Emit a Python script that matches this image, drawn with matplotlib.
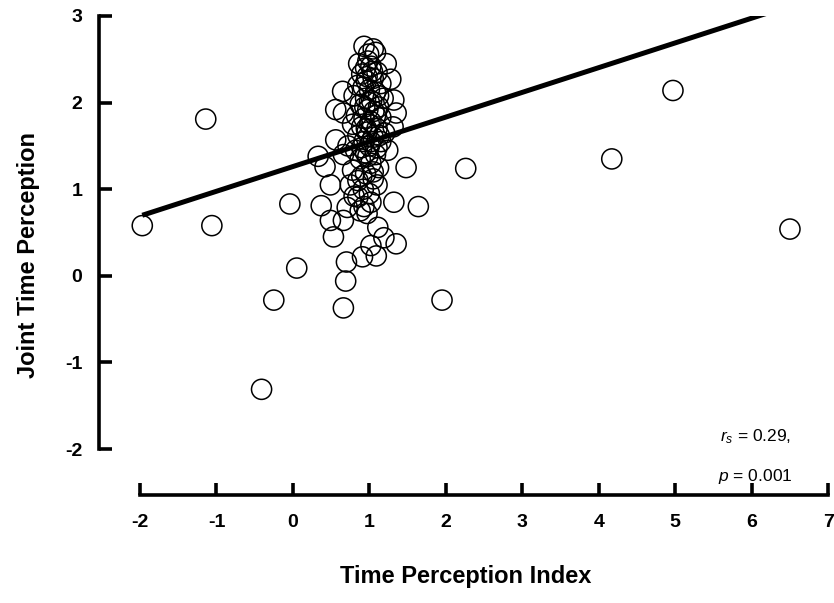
import matplotlib
matplotlib.use("Agg")
import matplotlib.pyplot as plt
import numpy as np

plt.rcParams['font.family'] = ['Liberation Sans', 'DejaVu Sans']
plt.rcParams['mathtext.fontset'] = 'custom'
plt.rcParams['mathtext.it'] = 'Liberation Sans:italic'
plt.rcParams['mathtext.rm'] = 'Liberation Sans'
plt.rcParams['axes.unicode_minus'] = False

# Time Perception Index (x) and Joint Time Perception (y) per participant
tpi = [
    0.93, 1.05, 0.99, 1.08, 1.22, 0.86, 0.95, 1.02, 0.90, 1.10,
    1.28, 0.97, 1.05, 0.65, 0.85, 1.15, 0.92, 1.00, 1.08, 1.32,
    0.80, 0.95, 1.03, 1.18, 0.88, 1.12, 0.56, 0.66, 1.35, 0.98,
    1.06, 0.83, 0.93, 1.15, 1.02, 1.31, 0.78, 0.90, 1.10, 0.97,
    1.20, 0.85, 0.56, 1.05, 0.93, 1.15, 0.72, 1.00, 1.24, 0.82,
    0.95, 1.08, 0.66, 0.42, 0.88, 1.02, 1.12, 0.78, 0.95, 0.85,
    1.05, 0.75, 0.92, 1.00, 0.80, 0.85, 1.02, 0.93, 0.71, 0.88,
    0.97, 0.66, 0.49,
    0.98, 1.04, 0.96, 1.12, 1.00, 0.94, 1.08, 1.00, 0.96, 1.13,
    1.02, 0.90, 1.10, 0.98, 1.05, 0.90, 1.10,
    -1.97, -1.14, -1.06, -0.41, -0.25, -0.04, 0.05, 0.33, 0.37, 0.49,
    0.53, 0.69, 0.66, 0.70, 0.91, 1.09, 1.02, 1.19, 1.35, 1.11,
    1.32, 1.64, 1.48, 1.95, 2.26, 4.17, 4.97, 6.50,
]
jtp = [
    2.65, 2.62, 2.56, 2.58, 2.45, 2.45, 2.40, 2.42, 2.33, 2.35,
    2.27, 2.30, 2.28, 2.13, 2.20, 2.22, 2.18, 2.15, 2.12, 2.03,
    2.08, 2.05, 2.02, 2.05, 1.98, 1.95, 1.92, 1.88, 1.88, 1.92,
    1.90, 1.85, 1.82, 1.83, 1.78, 1.72, 1.75, 1.72, 1.70, 1.66,
    1.65, 1.62, 1.57, 1.60, 1.55, 1.55, 1.50, 1.50, 1.45, 1.45,
    1.42, 1.40, 1.40, 1.26, 1.35, 1.30, 1.25, 1.22, 1.18, 1.10,
    1.12, 1.05, 1.00, 0.95, 0.92, 0.91, 0.85, 0.80, 0.79, 0.75,
    0.72, 0.64, 0.64,
    2.48, 2.36, 2.25, 2.08, 2.00, 1.95, 1.85, 1.75, 1.70, 1.62,
    1.55, 1.48, 1.48, 1.38, 1.20, 1.15, 1.05,
    0.58, 1.81, 0.58, -1.31, -0.28, 0.83, 0.09, 1.38, 0.81, 1.05,
    0.45, -0.06, -0.37, 0.16, 0.22, 0.23, 0.35, 0.44, 0.37, 0.56,
    0.85, 0.80, 1.25, -0.28, 1.24, 1.35, 2.14, 0.54,
]

# fitted trend line
fit_intercept = 1.262
fit_slope = 0.2855

x_ticks = [-2, -1, 0, 1, 2, 3, 4, 5, 6, 7]
y_ticks = [-2, -1, 0, 1, 2, 3]

fig = plt.figure(figsize=(8.34, 6.03), dpi=100)
ax = fig.add_axes([99 / 834, (603 - 495) / 603, 733 / 834, (495 - 16) / 603])

ax.scatter(tpi, jtp, s=210, facecolors='none', edgecolors='black',
           linewidths=1.1, zorder=2, clip_on=False)

xs = np.array([min(tpi), max(tpi)])
ax.plot(xs, fit_intercept + fit_slope * xs, color='black', lw=3.6,
        solid_capstyle='butt', zorder=3)

ax.set_xlim(-2.536, 7.05)
ax.set_ylim(-2.53, 3.0)

for side in ('top', 'right'):
    ax.spines[side].set_visible(False)
ax.spines['left'].set_bounds(-2, 3)
ax.spines['bottom'].set_bounds(-2, 7)
for side in ('left', 'bottom'):
    ax.spines[side].set_linewidth(2.6)
    ax.spines[side].set_capstyle('projecting')

ax.set_xticks(x_ticks)
ax.set_yticks(y_ticks)
ax.tick_params(axis='both', direction='in', length=9, width=2.6,
               labelsize=14)
ax.tick_params(axis='x', pad=14)
ax.tick_params(axis='y', pad=12)
for lab in ax.get_xticklabels() + ax.get_yticklabels():
    lab.set_fontweight('bold')

ax.set_xlabel('Time Perception Index', fontsize=17, fontweight='bold',
              labelpad=24)
ax.set_ylabel('Joint Time Perception', fontsize=17, fontweight='bold',
              labelpad=18)

ax.text(6.05, -1.86, r'$r_s$ = 0.29,', fontsize=12.5, ha='center', va='center')
ax.text(6.05, -2.32, r'$p$ = 0.001', fontsize=12.5, ha='center', va='center')

fig.savefig('out.png', dpi=100)
